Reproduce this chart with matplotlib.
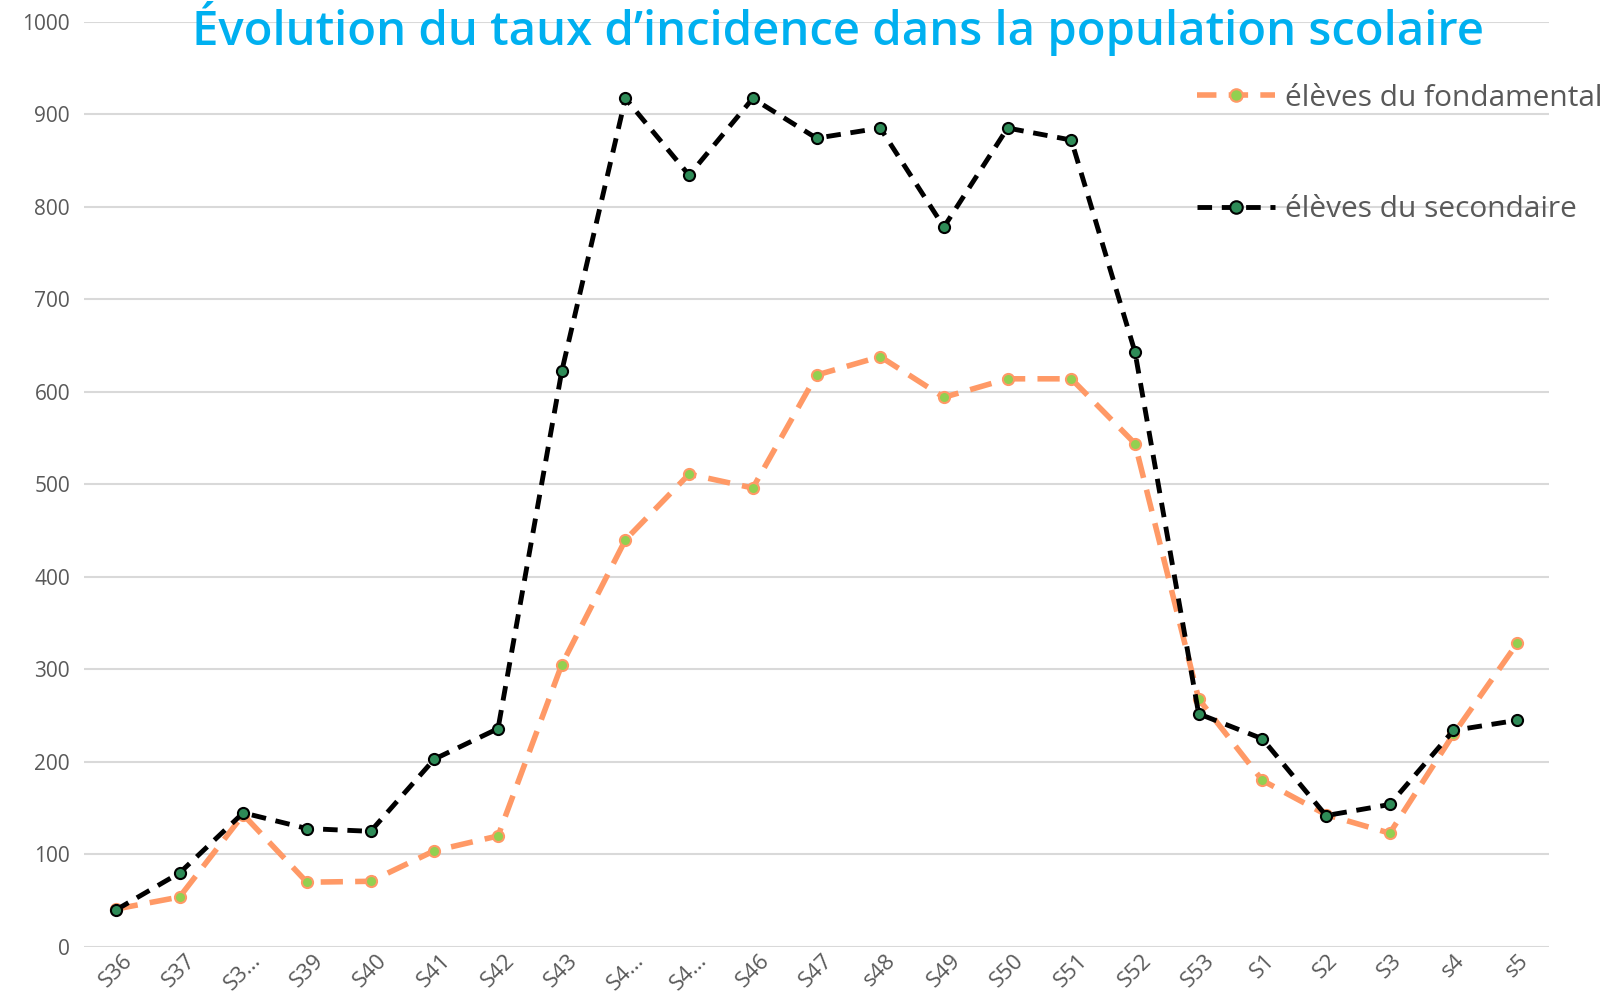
import matplotlib
matplotlib.use("Agg")
import matplotlib.pyplot as plt
from matplotlib.lines import Line2D

categories = ["S36", "S37", "S3…", "S39", "S40", "S41", "S42", "S43", "S4…", "S4…",
              "S46", "S47", "s48", "S49", "S50", "S51", "S52", "S53", "S1", "S2",
              "S3", "s4", "s5"]
fondamental = [41, 54, 143, 70, 71, 104, 120, 305, 440, 511, 496, 618, 638, 594,
               614, 614, 544, 268, 180, 143, 123, 230, 328]
secondaire = [40, 80, 145, 128, 125, 203, 236, 622, 917, 834, 917, 874, 885, 778,
              885, 872, 643, 252, 225, 142, 154, 234, 245]
yticks = [0, 100, 200, 300, 400, 500, 600, 700, 800, 900, 1000]

title = "Évolution du taux d’incidence dans la population scolaire"
label_f = "élèves du fondamental"
label_s = "élèves du secondaire"

plt.rcParams['font.family'] = ['Open Sans', 'DejaVu Sans']

fig = plt.figure(figsize=(16.12, 10.05), dpi=100)
ax = fig.add_axes([84/1612, 1-947/1005, (1549-84)/1612, (947-21.6)/1005])

x = list(range(len(categories)))
orange = "#FF9966"
ax.plot(x, fondamental, color=orange, lw=4, ls=(0, (4, 2.2)), marker='o',
        ms=8, mfc="#92D050", mec=orange, mew=1.5, zorder=3)
ax.plot(x, secondaire, color="black", lw=3.5, ls=(0, (3, 2)), marker='o',
        ms=8, mfc="#2E8B57", mec="black", mew=1.5, zorder=4)

ax.set_xlim(-0.5, len(categories) - 0.5)
ax.set_ylim(0, 1000)
ax.set_yticks(yticks)
ax.set_yticklabels([str(v) for v in yticks], color="#595959", fontsize=15)
ax.set_xticks(x)
ax.set_xticklabels(categories, rotation=45, color="#595959", fontsize=16,
                   ha='center', va='top')
ax.tick_params(axis='both', length=0, pad=10)
ax.tick_params(axis='x', pad=2)
ax.grid(axis='y', color="#D9D9D9", lw=1.5)
ax.set_axisbelow(True)
for s in ax.spines.values():
    s.set_visible(False)

fig.text(838/1612, 1-45/1005, title, ha='center', va='baseline', color="#00B0F0",
         fontsize=34, fontweight='semibold')

h1 = Line2D([], [], color=orange, lw=4, ls=(0, (3.5, 2.2)), marker='o', ms=9,
            mfc="#92D050", mec=orange, mew=1.5)
h2 = Line2D([], [], color="black", lw=3.5, ls=(0, (3, 2)), marker='o', ms=9,
            mfc="#2E8B57", mec="black", mew=1.5)
fig.legend([h1, h2], [label_f, label_s], loc='upper left',
           bbox_to_anchor=(1185/1612, 1-72/1005), frameon=False, fontsize=21.5,
           labelcolor="#595959", labelspacing=2.75, handlelength=2.6,
           handletextpad=0.35, borderaxespad=0)

fig.savefig("out.png", dpi=100)
